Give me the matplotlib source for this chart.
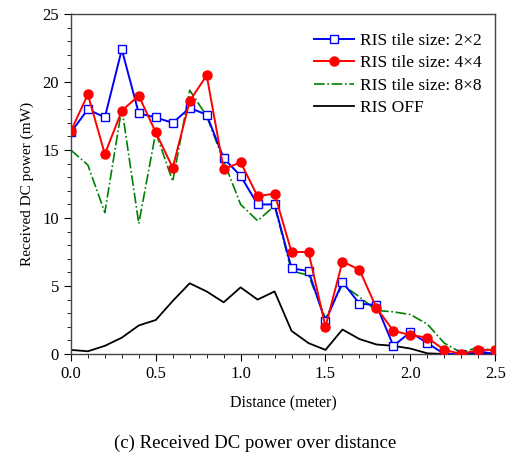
import matplotlib
matplotlib.use("Agg")
import matplotlib.pyplot as plt
from matplotlib.ticker import MultipleLocator
import numpy as np

plt.rcParams['font.family'] = ['Liberation Serif', 'DejaVu Serif']

distance = np.round(np.arange(0, 2.51, 0.1), 1)

tile_2x2 = [16.3, 18.0, 17.4, 22.4, 17.7, 17.4, 17.0, 18.1, 17.6, 14.4,
            13.1, 11.0, 11.0, 6.3, 6.1, 2.4, 5.3, 3.7, 3.6, 0.6,
            1.6, 0.8, 0.0, 0.0, 0.2, 0.0]
tile_4x4 = [16.4, 19.1, 14.7, 17.9, 19.0, 16.3, 13.7, 18.6, 20.5, 13.6,
            14.1, 11.6, 11.8, 7.5, 7.5, 2.0, 6.8, 6.2, 3.4, 1.7,
            1.4, 1.2, 0.3, 0.0, 0.3, 0.3]
tile_8x8 = [15.0, 13.9, 10.4, 18.1, 9.6, 16.3, 12.7, 19.4, 17.5, 14.2,
            11.0, 9.8, 10.9, 6.1, 5.8, 2.6, 5.1, 4.2, 3.2, 3.1,
            2.9, 2.2, 0.8, 0.1, 0.5, 0.2]
ris_off = [0.3, 0.2, 0.6, 1.2, 2.1, 2.5, 3.9, 5.2, 4.6, 3.8,
           4.9, 4.0, 4.6, 1.7, 0.8, 0.3, 1.8, 1.1, 0.7, 0.6,
           0.4, 0.05, 0.0, 0.0, 0.0, 0.0]

fig = plt.figure(figsize=(5.1, 4.55), dpi=100)
ax = fig.add_axes([0.139, 0.222, 0.832, 0.747])

ax.plot(distance, tile_2x2, color='blue', lw=1.4, marker='s', ms=6,
        mfc='white', mec='blue', mew=1.0, label='RIS tile size: 2\u00d72', zorder=3)
ax.plot(distance, tile_4x4, color='red', lw=1.4, marker='o', ms=6.5,
        mfc='red', mec='red', label='RIS tile size: 4\u00d74', zorder=4)
ax.plot(distance, tile_8x8, color='green', lw=1.2, ls='-.',
        label='RIS tile size: 8\u00d78', zorder=2)
ax.plot(distance, ris_off, color='black', lw=1.3, label='RIS OFF', zorder=2)

ax.set_xlim(0, 2.5)
ax.set_ylim(0, 25)
ax.xaxis.set_major_locator(MultipleLocator(0.5))
ax.xaxis.set_minor_locator(MultipleLocator(0.1))
ax.yaxis.set_major_locator(MultipleLocator(5))
ax.yaxis.set_minor_locator(MultipleLocator(1))
ax.xaxis.set_major_formatter(matplotlib.ticker.FormatStrFormatter('%.1f'))
ax.tick_params(axis='both', which='major', direction='out', length=5, labelsize=12)
ax.tick_params(axis='both', which='minor', direction='out', length=3)
for s in ax.spines.values():
    s.set_linewidth(1.0)
    s.set_color('#444444')

ax.set_xlabel('Distance (meter)', fontsize=11.5, labelpad=10)
ax.set_ylabel('Received DC power (mW)', fontsize=11, labelpad=6)

ax.legend(loc='upper right', bbox_to_anchor=(1.0, 0.985), frameon=False,
          fontsize=12.5, handlelength=2.3, handletextpad=0.3,
          labelspacing=0.35, borderaxespad=0.4)

fig.text(0.5, 0.015, '(c) Received DC power over distance', ha='center',
         fontsize=13.5)

fig.savefig('out.png', dpi=100)
